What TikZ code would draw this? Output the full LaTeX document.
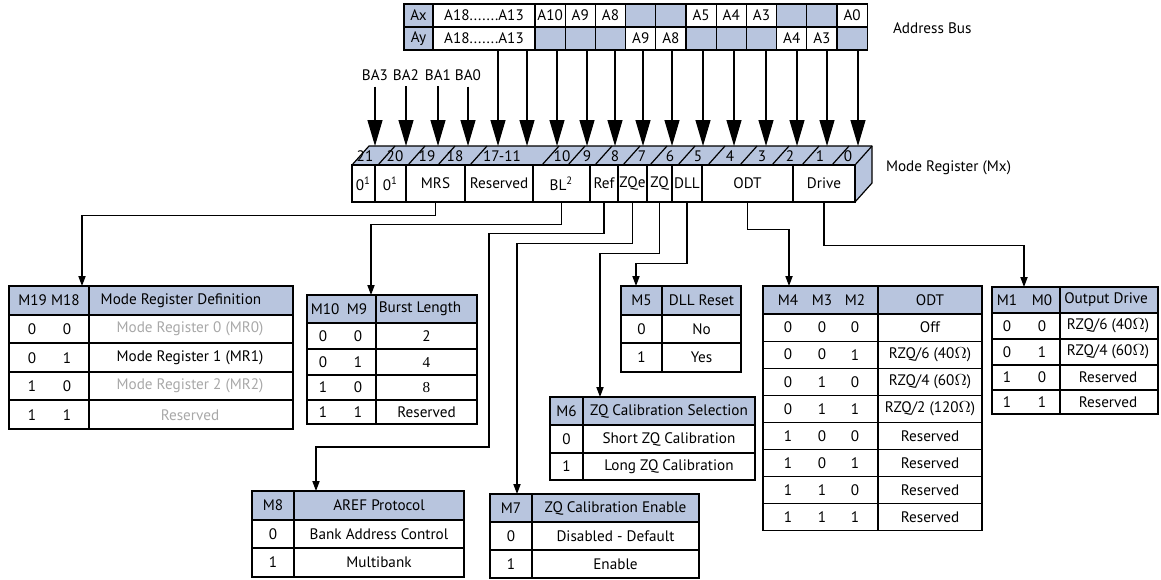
\documentclass[tikz,border=0pt]{standalone}
\usepackage{fontspec}
\setmainfont{PT Sans}
\newfontfamily\numserif{Liberation Serif}
\usetikzlibrary{arrows.meta}
\definecolor{HeadBlue}{RGB}{184,197,222}
\definecolor{FadeGray}{RGB}{168,168,168}
\tikzset{
  tabline/.style={line width=0.6pt},
  field/.style={draw, line width=0.6pt, fill=white, inner sep=0pt, minimum height=18.5pt},
  balbl/.style={inner sep=0pt, outer ysep=3pt},
  busarrow/.style={line width=0.6pt, -{Triangle[length=13pt,width=7.5pt]}},
  conn/.style={line width=0.6pt, -{Triangle[length=5pt,width=3.6pt]}},
}
\begin{document}
\begin{tikzpicture}[x=0.5pt, y=-0.5pt, font=\fontsize{7.6}{8.6}\selectfont]
  \useasboundingbox (0,0) rectangle (1161,579);

  % address bus
  \fill[HeadBlue] (404,4) rectangle (867.2,50);
  \fill[white] (433,4) rectangle (535,50);
  \foreach \i in {0,1,2,5,6,7,10} \fill[white] ({535+30.2*\i},4) rectangle ++(30.2,23);
  \foreach \i in {3,4,8,9} \fill[white] ({535+30.2*\i},27) rectangle ++(30.2,23);
  \draw[tabline] (404,4) rectangle (867.2,50) (404,27) -- (867.2,27)
    (433,4) -- (433,50) (535,4) -- (535,50);
  \foreach \i in {1,...,10} \draw[tabline] ({535+30.2*\i},4) -- ++(0,46);
  \node (ax) at (418.5,15.5) {Ax};
  \node (ay) at (418.5,38.5) {Ay};
  \node (axhi) at (484,15.5) {A18.......A13};
  \node (ayhi) at (484,38.5) {A18.......A13};
  \foreach \i/\t in {0/A10,1/A9,2/A8,5/A5,6/A4,7/A3,10/A0}
    \node (ax-\i) at ({550.1+30.2*\i},15.5) {\t};
  \foreach \i/\t in {3/A9,4/A8,8/A4,9/A3}
    \node (ay-\i) at ({550.1+30.2*\i},38.5) {\t};
  \node[anchor=west] (abuslbl) at (886,28) {Address Bus};
  \coordinate (abusS) at (635,50);

  % mode register, 3d box
  \fill[HeadBlue] (352,165) -- (369,146) -- (872,146) -- (855,165) -- cycle;
  \fill[HeadBlue] (855,165) -- (872,146) -- (872,183) -- (855,202) -- cycle;
  \draw[tabline, line join=round] (352,165) -- (369,146) -- (872,146) -- (872,183) -- (855,202);
  \draw[tabline] (855,165) -- (872,146);
  \foreach \s in {378,408,438,470,542,568,595,623,650,678,708,740,772,802,832}
    \draw[tabline] (\s,165) -- ++(17,-19);
  \foreach \n/\x in {21/365,20/395,19/427,18/455,17-11/502,10/562,9/587,8/615,
                     7/642,6/670,5/698,4/730,3/762,2/790,1/820,0/848}
    \node (num\n) at (\x,156) {\n};
  \foreach \xa/\xb/\txt/\nm in {352/375/{0\textsuperscript{1}}/f21,375/406/{0\textsuperscript{1}}/f20,
      406/465/MRS/fMRS,465/533/Reserved/fRes,533/590/{BL\textsuperscript{2}}/fBL,590/618/Ref/fRef,
      618/647/ZQe/fZQe,647/672/ZQ/fZQ,672/702/DLL/fDLL,702/793/ODT/fODT,793/855/Drive/fDrive}
    \node[field, minimum width={(\xb-\xa)*0.5pt}] (\nm) at ({(\xa+\xb)/2},183.5) {\txt};
  \node[anchor=west] (mxlbl) at (879,168) {Mode Register (Mx)};

  % inputs
  \foreach \b/\x in {3/375,2/406,1/438,0/468} {
    \node[balbl] (ba\b) at (\x,75) {BA\b};
    \coordinate (t\b) at (\x,146);
    \draw[busarrow] (ba\b.south) -- (t\b);
  }
  \foreach \x in {498,527,557,587,615,643,672,703,734,766,797,827,858} {
    \coordinate (t\x) at (\x,146);
    \draw[busarrow] (abusS -| t\x) -- (t\x);
  }

  % connectors to the tables
  \coordinate (mrIn) at (82,286);
  \coordinate (blIn) at (371,295);
  \coordinate (arefIn) at (316,491);
  \coordinate (zqenIn) at (517,494);
  \coordinate (zqselIn) at (600,397);
  \coordinate (dllIn) at (636,286);
  \coordinate (odtIn) at (789,286);
  \coordinate (drvIn) at (1024,287);
  \draw[conn] (fMRS.south) -- ++(0,13) -| (mrIn);
  \draw[conn] (fBL.south) -- ++(0,22) -| (blIn);
  \draw[conn] (fRef.south) -- ++(0,31) -| (489,447) -| (arefIn);
  \draw[conn] (fZQe.south) -- ++(0,41) -| (zqenIn);
  \draw[conn] (fZQ.south) -- ++(0,51) -| (zqselIn);
  \draw[conn] (fDLL.south) -- ++(0,61) -| (dllIn);
  \draw[conn] (fODT.south) -- ++(0,27) -| (odtIn);
  \draw[conn] (fDrive.south) -- ++(0,43) -| (drvIn);

  % M19 M18
  \fill[HeadBlue] (9,286) rectangle (293,315);
  \draw[tabline] (9,286) rectangle (293,429) (89,286) -- (89,429);
  \foreach \y in {315,343,372,400} \draw[tabline] (9,\y) -- (293,\y);
  \node (mrH) at (49,300.5) {M19 M18};
  \node (mrDef) at (181,300.5) {Mode Register Definition};
  \foreach \a/\b/\t/\c [count=\r] in {0/0/Mode Register 0 (MR0)/FadeGray,0/1/Mode Register 1 (MR1)/black,
                                      1/0/Mode Register 2 (MR2)/FadeGray,1/1/Reserved/FadeGray} {
    \node (mrA\r) at (32,{300.75+28.5*\r}) {\a};
    \node (mrB\r) at (67,{300.75+28.5*\r}) {\b};
    \node[text=\c] (mrT\r) at (190,{300.75+28.5*\r}) {\t};
  }

  % M10 M9
  \fill[HeadBlue] (307,295) rectangle (477,323);
  \draw[tabline] (307,295) rectangle (477,424) (376,295) -- (376,424);
  \foreach \y in {323,349,375,400} \draw[tabline] (307,\y) -- (477,\y);
  \node (blH) at (339,309) {M10\enspace M9};
  \node (blLen) at (420,309) {Burst Length};
  \foreach \a/\b/\t/\y [count=\r] in {0/0/2/336,0/1/{\numserif 4}/362,1/0/{\numserif 8}/387.5,1/1/Reserved/412} {
    \node (blA\r) at (323,\y) {\a};
    \node (blB\r) at (358,\y) {\b};
    \node (blT\r) at (426.5,\y) {\t};
  }

  % M8
  \fill[HeadBlue] (252,491) rectangle (464,520);
  \draw[tabline] (252,491) rectangle (464,577) (294,491) -- (294,577);
  \foreach \y in {520,548} \draw[tabline] (252,\y) -- (464,\y);
  \node (arH) at (273,505.5) {M8};
  \node (arT) at (379,505.5) {AREF Protocol};
  \node (arA1) at (273,534) {0};
  \node (arT1) at (379,534) {Bank Address Control};
  \node (arA2) at (273,562.5) {1};
  \node (arT2) at (379,562.5) {Multibank};

  % M7
  \fill[HeadBlue] (490,494) rectangle (699,522);
  \draw[tabline] (490,494) rectangle (699,578) (532,494) -- (532,578);
  \foreach \y in {522,550} \draw[tabline] (490,\y) -- (699,\y);
  \node (zeH) at (511,508) {M7};
  \node (zeT) at (615.5,508) {ZQ Calibration Enable};
  \node (zeA1) at (511,536) {0};
  \node (zeT1) at (615.5,536) {Disabled - Default};
  \node (zeA2) at (511,564) {1};
  \node (zeT2) at (615.5,564) {Enable};

  % M6
  \fill[HeadBlue] (550,397) rectangle (755,425);
  \draw[tabline] (550,397) rectangle (755,480) (583,397) -- (583,480);
  \foreach \y in {425,453} \draw[tabline] (550,\y) -- (755,\y);
  \node (zsH) at (566.5,411) {M6};
  \node (zsT) at (669,411) {ZQ Calibration Selection};
  \node (zsA1) at (566.5,439) {0};
  \node (zsT1) at (669,439) {Short ZQ Calibration};
  \node (zsA2) at (566.5,466.5) {1};
  \node (zsT2) at (669,466.5) {Long ZQ Calibration};

  % M5
  \fill[HeadBlue] (621,286) rectangle (741,315);
  \draw[tabline] (621,286) rectangle (741,372) (662,286) -- (662,372);
  \draw[tabline] (621,315) -- (741,315) (621,343) -- (741,343);
  \node (dlH) at (641.5,300.5) {M5};
  \node (dlT) at (701.5,300.5) {DLL Reset};
  \node (dlA1) at (641.5,329) {0};
  \node (dlT1) at (701.5,329) {No};
  \node (dlA2) at (641.5,357.5) {1};
  \node (dlT2) at (701.5,357.5) {Yes};

  % M4 M3 M2
  \fill[HeadBlue] (763,286) rectangle (982,314);
  \draw[tabline] (763,286) rectangle (982,530.8) (878,286) -- (878,530.8);
  \foreach \r in {0,...,7} \draw[tabline] (763,{314+27.1*\r}) -- (982,{314+27.1*\r});
  \node (odH4) at (788,300) {M4};
  \node (odH3) at (822,300) {M3};
  \node (odH2) at (855,300) {M2};
  \node (odT) at (930,300) {ODT};
  \foreach \a/\b/\c/\t [count=\r] in {0/0/0/Off,0/0/1/{RZQ/6 (40$\Omega$)},0/1/0/{RZQ/4 (60$\Omega$)},
      0/1/1/{RZQ/2 (120$\Omega$)},1/0/0/Reserved,1/0/1/Reserved,1/1/0/Reserved,1/1/1/Reserved} {
    \node (odA\r) at (788,{300.45+27.1*\r}) {\a};
    \node (odB\r) at (822,{300.45+27.1*\r}) {\b};
    \node (odC\r) at (855,{300.45+27.1*\r}) {\c};
    \node (odV\r) at (930,{300.45+27.1*\r}) {\t};
  }

  % M1 M0
  \fill[HeadBlue] (992,287) rectangle (1158,313);
  \draw[tabline] (992,287) rectangle (1158,414) (1060,287) -- (1060,414);
  \foreach \y in {313,339,365,390} \draw[tabline] (992,\y) -- (1158,\y);
  \node (drH1) at (1007,300) {M1};
  \node (drH0) at (1042,300) {M0};
  \node (drT) at (1106,300) {Output Drive};
  \foreach \a/\b/\t/\y [count=\r] in {0/0/{RZQ/6 (40$\Omega$)}/326,0/1/{RZQ/4 (60$\Omega$)}/352,
                                      1/0/Reserved/377.5,1/1/Reserved/402} {
    \node (drA\r) at (1007,\y) {\a};
    \node (drB\r) at (1042,\y) {\b};
    \node (drV\r) at (1108,\y) {\t};
  }
\end{tikzpicture}
\end{document}
